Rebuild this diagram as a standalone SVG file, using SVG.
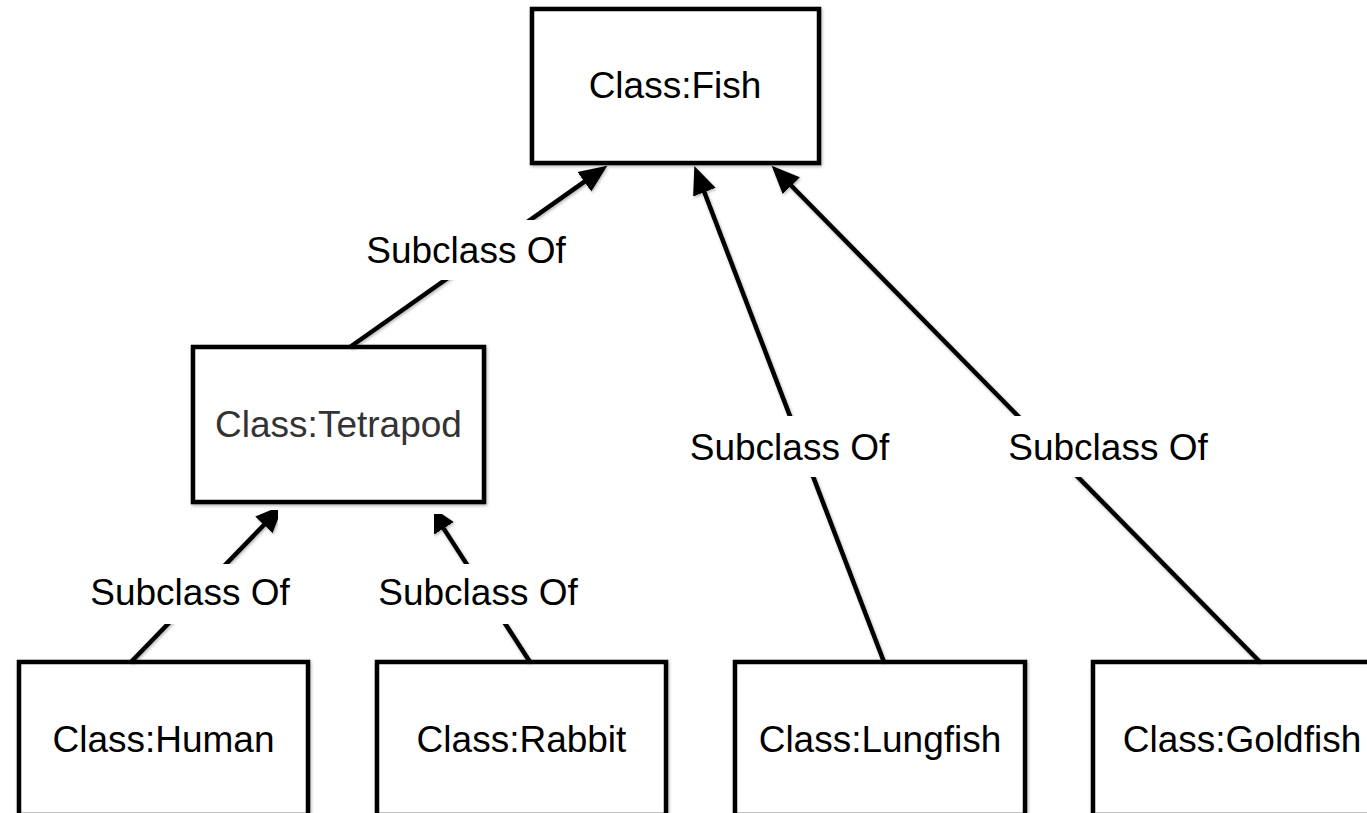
<svg xmlns="http://www.w3.org/2000/svg" width="1367" height="813" viewBox="0 0 1367 813">
  <style>
    .box { fill: #ffffff; stroke: #000000; stroke-width: 4.5; filter: url(#sh); }
    .node-text { font-family: "Liberation Sans", Arial, sans-serif; font-size: 37px; fill: #000000; text-anchor: middle; }
    .edge { stroke: #000000; stroke-width: 4.5; fill: none; marker-end: url(#arrow); filter: url(#sh); }
    .lbl-bg { fill: #ffffff; stroke: none; }
    .lbl { font-family: "Liberation Sans", Arial, sans-serif; font-size: 37px; fill: #000000; text-anchor: middle; }
  </style>
  <defs>
    <filter id="sh" x="-10%" y="-10%" width="120%" height="120%">
      <feDropShadow dx="1" dy="1.5" stdDeviation="1.5" flood-color="#000000" flood-opacity="0.3"/>
    </filter>
    <marker id="arrow" markerUnits="userSpaceOnUse" markerWidth="32" markerHeight="28" viewBox="0 -14 32 28" refX="1" refY="0" orient="auto">
      <path d="M0,-12 L28,0 L0,12 Z" fill="#000000"/>
    </marker>
  </defs>
  <rect width="1367" height="813" fill="#ffffff"/>

  <g id="node-fish">
    <rect class="box" x="532" y="9" width="287" height="154"/>
    <text class="node-text" x="675" y="98">Class:Fish</text>
  </g>
  <g id="node-tetrapod">
    <rect class="box" x="193" y="347" width="291" height="155"/>
    <text class="node-text" x="338.5" y="437" style="fill:#333333">Class:Tetrapod</text>
  </g>
  <g id="node-human">
    <rect class="box" x="19" y="662" width="289" height="153"/>
    <text class="node-text" x="163.5" y="752">Class:Human</text>
  </g>
  <g id="node-rabbit">
    <rect class="box" x="377" y="662" width="289" height="153"/>
    <text class="node-text" x="521.5" y="752">Class:Rabbit</text>
  </g>
  <g id="node-lungfish">
    <rect class="box" x="735" y="662" width="290" height="153"/>
    <text class="node-text" x="880" y="752">Class:Lungfish</text>
  </g>
  <g id="node-goldfish">
    <rect class="box" x="1093" y="662" width="296" height="153"/>
    <text class="node-text" x="1242" y="752">Class:Goldfish</text>
  </g>

  <g id="connectors">
    <line class="edge" x1="350" y1="347" x2="585.2" y2="181.2"/>
    <line class="edge" x1="884" y1="662" x2="704" y2="191.2"/>
    <line class="edge" x1="1260" y1="662" x2="790.6" y2="185"/>
    <line class="edge" x1="131" y1="662" x2="264.6" y2="524.2"/>
    <line class="edge" x1="530" y1="662" x2="443.1" y2="527.6"/>

    <rect class="lbl-bg" x="361" y="220" width="210" height="60"/>
    <text class="lbl" x="466" y="263">Subclass Of</text>
    <rect class="lbl-bg" x="684" y="416" width="211" height="61"/>
    <text class="lbl" x="789.5" y="460">Subclass Of</text>
    <rect class="lbl-bg" x="1003" y="416" width="211" height="61"/>
    <text class="lbl" x="1108" y="460">Subclass Of</text>
    <rect class="lbl-bg" x="85" y="564" width="210" height="60"/>
    <text class="lbl" x="190" y="605">Subclass Of</text>
    <rect class="lbl-bg" x="373" y="564" width="210" height="60"/>
    <text class="lbl" x="478" y="605">Subclass Of</text>
  </g>
</svg>
